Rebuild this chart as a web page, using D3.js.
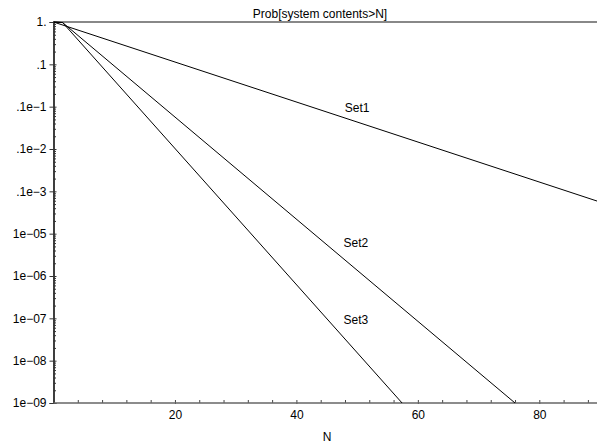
<!DOCTYPE html>
<html>
<head>
<meta charset="utf-8">
<script src="https://cdn.jsdelivr.net/npm/d3@7"></script>
<style>
  body { margin: 0; background: #fff; }
  svg { display: block; font-family: "Liberation Sans", Arial, Helvetica, sans-serif; }
</style>
</head>
<body>
<svg id="chart" width="597" height="443"></svg>
<script>
// ---- data ----
const title = "Prob[system contents>N]";
const xLabel = "N";
const set1N = [0, 89.5];
const set1P = [1, 5.9e-5];
const set2N = [0, 1.5, 76];
const set2P = [1, 0.97, 1e-9];
const set3N = [0, 1.5, 57.4];
const set3P = [1, 0.97, 1e-9];
const seriesNames = ["Set1", "Set2", "Set3"];
const labelPos = [[50, 7.4e-3], [49.8, 4.8e-6], [49.8, 7.4e-8]];
const xTicks = [20, 40, 60, 80];
const yTickValues = [1, 1e-1, 1e-2, 1e-3, 1e-4, 1e-5, 1e-6, 1e-7, 1e-8, 1e-9];
const yTickLabels = ["1.", ".1", ".1e\u22121", ".1e\u22122", ".1e\u22123", "1e\u221205", "1e\u221206", "1e\u221207", "1e\u221208", "1e\u221209"];

// ---- chart ----
(function () {
const svg = d3.select("#chart");
const mLeft = 53.5, mRight = 597, mTop = 22, mBottom = 403;
const x = d3.scaleLinear().domain([0, 89.5]).range([mLeft, mRight]);
const y = d3.scaleLog().domain([1e-9, 1]).range([mBottom, mTop]);

// minor ticks
const yMinor = [];
for (let e = -9; e < 0; e++) for (let k = 2; k <= 9; k++) yMinor.push(k * Math.pow(10, e));
const xMinor = d3.range(0, 90, 4).filter(v => xTicks.indexOf(v) < 0 && v > 0);

const gY = svg.append("g").attr("transform", `translate(${mLeft},0)`);
gY.call(d3.axisLeft(y).tickValues(yTickValues).tickSize(4).tickPadding(3)
  .tickFormat((d, i) => yTickLabels[i]));
gY.append("g").call(d3.axisLeft(y).tickValues(yTickValues).tickSize(-3).tickFormat(""));
gY.append("g").call(d3.axisLeft(y).tickValues(yMinor).tickSize(-2.5).tickFormat(""));
gY.selectAll(".domain").attr("stroke", "#333").attr("stroke-width", 1.2);
gY.selectAll("line").attr("stroke", "#333");
gY.selectAll("text").attr("font-size", 12).attr("fill", "#000")
  .attr("font-family", '"Liberation Sans", Arial, sans-serif');

const gX = svg.append("g").attr("transform", `translate(0,${mBottom})`);
gX.call(d3.axisBottom(x).tickValues(xTicks).tickSize(1).tickPadding(6).tickFormat(d3.format("d")));
gX.append("g").call(d3.axisBottom(x).tickValues(xTicks.concat(xMinor)).tickSize(-3).tickFormat(""));
gX.selectAll(".domain").remove();
gX.selectAll("line").attr("stroke", "#444");
gX.selectAll("text").attr("font-size", 12).attr("fill", "#000")
  .attr("font-family", '"Liberation Sans", Arial, sans-serif');
svg.append("line").attr("x1", mLeft).attr("x2", mRight).attr("y1", mBottom).attr("y2", mBottom)
  .attr("stroke", "#666").attr("stroke-width", 1.6);

// top frame
svg.append("line").attr("x1", mLeft).attr("x2", mRight).attr("y1", mTop).attr("y2", mTop)
  .attr("stroke", "#888").attr("stroke-width", 2);

// series
const line = d3.line().x(d => x(d[0])).y(d => y(d[1]));
const series = [
  d3.zip(set1N, set1P),
  d3.zip(set2N, set2P),
  d3.zip(set3N, set3P)
];
svg.append("g").selectAll("path").data(series).join("path")
  .attr("d", line).attr("fill", "none").attr("stroke", "#000").attr("stroke-width", 1);

svg.append("g").selectAll("text").data(seriesNames).join("text")
  .attr("x", (d, i) => x(labelPos[i][0])).attr("y", (d, i) => y(labelPos[i][1]))
  .attr("text-anchor", "middle").attr("font-size", 12).text(d => d);

// title & x label
svg.append("text").attr("x", 320).attr("y", 18).attr("text-anchor", "middle")
  .attr("font-size", 12).text(title);
svg.append("text").attr("x", 327).attr("y", 441).attr("text-anchor", "middle")
  .attr("font-size", 12).text(xLabel);
})();
</script>
</body>
</html>
